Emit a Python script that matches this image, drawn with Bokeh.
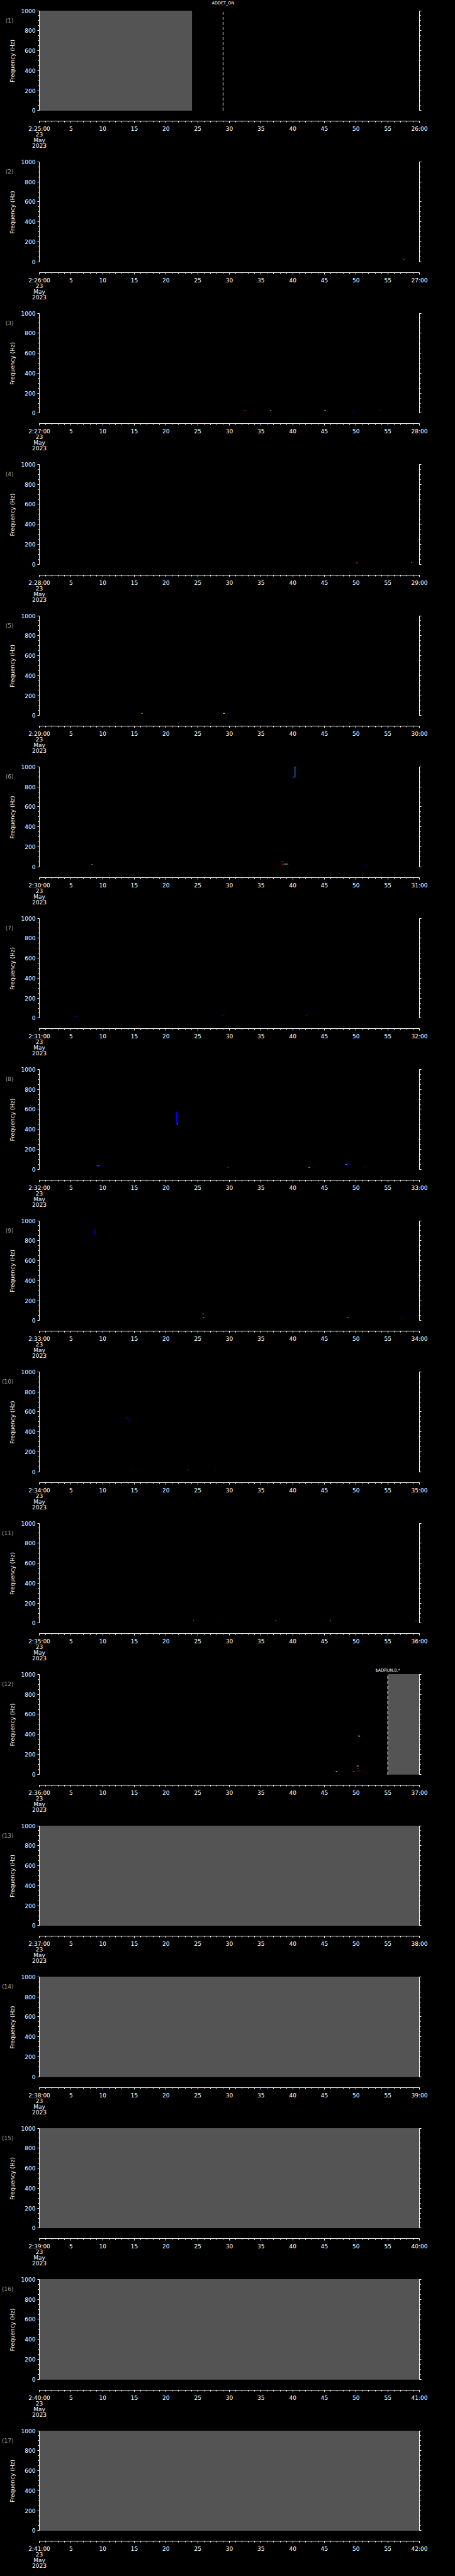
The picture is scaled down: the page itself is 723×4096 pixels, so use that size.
from bokeh.plotting import figure
from bokeh.layouts import column
from bokeh.models import (Range1d, FixedTicker, LinearAxis, Label, ColumnDataSource,
                          LinearColorMapper, GlobalInlineStyleSheet)
from bokeh.transform import transform
from bokeh.embed import file_html
from bokeh.resources import INLINE

# ---------------- data ----------------
HOUR = 2
panel_start_minute = list(range(25, 42))          # panels (1)..(17): 2:25 .. 2:41
DAY, MONTH, YEAR = "23", "May", "2023"
freq_ticks = [0, 200, 400, 600, 800, 1000]
freq_minor = list(range(0, 1001, 50))
sec_ticks = list(range(0, 61, 5))
sec_minor = list(range(0, 61, 1))

# grey (no data) blocks: panel, start s, end s  (full 0-1000 Hz)
gray_panel = [1, 12, 13, 14, 15, 16, 17]
gray_t0 = [0.0, 55.0, 0.0, 0.0, 0.0, 0.0, 0.0]
gray_t1 = [24.1, 60.0, 60.0, 60.0, 60.0, 60.0, 60.0]

# event markers
event_panel = [1, 12]
event_t = [29.0, 55.0]
event_text = ["ADDET_ON", "$ADRUN,0,*"]
event_gap_refpx = [17.7, 9.0]

# spectrogram specks: panel, t0, t1, f0, f1, level(0-1)
speck_panel = [2, 2, 2,
               3, 3, 3, 3, 3, 3, 3, 3,
               4, 4, 4, 4,
               5, 5, 5,
               6, 6, 6, 6, 6, 6, 6, 6, 6, 6, 6,
               7, 7, 7,
               8, 8, 8, 8, 8, 8, 8, 8, 8, 8, 8, 8,
               9, 9, 9, 9, 9, 9, 9,
               10, 10, 10, 10, 10, 10, 10,
               11, 11, 11, 11, 11, 11,
               12, 12, 12, 12, 12, 12, 12, 12, 12]
speck_t0 = [57.40, 57.50, 57.60,
            32.3, 36.4, 36.5, 45.0, 45.1, 49.3, 53.6, 53.7,
            50.0, 50.1, 50.2, 58.7,
            16.1, 16.2, 29.0,
            40.3, 39.9, 40.1, 40.3, 8.2, 38.2, 38.4, 38.2, 38.7, 38.9, 51.4,
            5.6, 28.9, 42.0,
            21.6, 21.7, 9.05, 9.5, 29.7, 29.85, 42.5, 42.65, 48.3, 48.6, 51.3, 59.7,
            8.65, 25.7, 25.8, 25.9, 26.0, 48.5, 57.1,
            13.75, 13.95, 14.1, 14.6, 23.4, 23.55, 27.7,
            24.3, 28.6, 37.2, 37.28, 45.9, 59.4,
            50.2, 50.35, 50.45, 50.1, 50.25, 49.5, 50.1, 46.8, 47.0]
speck_t1 = [57.50, 57.60, 57.75,
            32.5, 36.5, 36.7, 45.1, 45.25, 49.5, 53.7, 53.8,
            50.1, 50.2, 50.35, 58.85,
            16.2, 16.3, 29.3,
            40.42, 40.1, 40.3, 40.55, 8.4, 38.4, 38.6, 38.7, 38.9, 39.3, 51.8,
            5.9, 29.2, 42.25,
            21.72, 21.85, 9.5, 9.9, 29.85, 30.0, 42.65, 42.8, 48.6, 49.0, 51.5, 60.0,
            8.77, 26.0, 25.9, 26.0, 26.1, 48.8, 57.4,
            13.95, 14.1, 14.2, 14.7, 23.55, 23.7, 27.85,
            24.4, 28.75, 37.28, 37.35, 46.05, 59.5,
            50.35, 50.45, 50.6, 50.4, 50.35, 49.8, 50.7, 47.0, 47.2]
speck_f0 = [21, 21, 21,
            23, 23, 23, 23, 23, 11, 23, 23,
            15, 15, 15, 20,
            20, 20, 20,
            896, 892, 892, 994, 25, 55, 55, 27, 27, 27, 15,
            12, 22, 25,
            456, 452, 35, 33, 20, 20, 20, 20, 50, 50, 25, 25,
            863, 65, 30, 30, 30, 25, 20,
            533, 524, 514, 20, 20, 20, 20,
            22, 22, 22, 22, 22, 22,
            385, 380, 380, 83, 55, 30, 34, 30, 30]
speck_f1 = [27, 27, 27,
            29, 29, 29, 29, 29, 17, 29, 29,
            21, 21, 21, 26,
            26, 26, 26,
            1000, 899, 899, 1000, 31, 61, 61, 33, 33, 33, 21,
            18, 28, 31,
            575, 460, 41, 39, 26, 26, 26, 26, 56, 56, 31, 31,
            909, 71, 36, 36, 36, 31, 26,
            541, 533, 524, 26, 26, 26, 26,
            28, 28, 28, 28, 28, 28,
            395, 388, 388, 89, 61, 36, 40, 36, 36]
speck_level = [0.85, 0.6, 0.05,
               0.85, 0.6, 0.05, 0.6, 0.3, 0.05, 0.85, 0.05,
               0.85, 0.6, 0.05, 0.3,
               0.3, 0.6, 0.6,
               0.2, 0.05, 0.3, 0.2, 0.3, 0.85, 0.05, 0.85, 0.6, 0.3, 0.05,
               0.05, 0.05, 0.05,
               0.05, 0.3, 0.2, 0.05, 0.85, 0.05, 0.6, 0.85, 0.3, 0.05, 0.85, 0.05,
               0.05, 0.3, 0.85, 0.6, 0.05, 0.45, 0.05,
               0.05, 0.05, 0.05, 0.85, 0.3, 0.05, 0.05,
               0.7, 0.05, 0.85, 0.6, 0.3, 0.7,
               0.05, 0.3, 0.6, 0.6, 0.6, 0.85, 0.95, 0.6, 0.05]

# ---------------- styling / layout ----------------
S = 0.705
FONT = "DejaVu Sans"
GRAY = "#545454"
palette = ["#0000ff", "#1e80ff", "#00e0ff", "#00ff40", "#ffff00", "#ff9000", "#ff0000", "#a00000"]
mapper = LinearColorMapper(palette=palette, low=0, high=1)

N = len(panel_start_minute)
TOTAL_H = 4088
edges = [round(i * TOTAL_H / N) for i in range(N + 1)]
LEFT, FRAME_W, RIGHT = 57, 609, 30
TOP, FRAME_H = 1, 197            # frame bottom sits at 198 px (x-axis line)
HZ_PER_REFPX = 1000.0 / 233.0
Y_LOW = -24.3 * HZ_PER_REFPX     # x-axis sits 24 ref px below 0 Hz
PX_PER_HZ = 181.0 / (1000.0 - Y_LOW)
Y_HIGH = Y_LOW + FRAME_H / PX_PER_HZ
PANEL_TAG_Y = 900                # height of the "(n)" tag


def style_axis(ax, tick_out, minor_out):
    ax.axis_line_color = "white"
    ax.axis_line_width = 1
    ax.major_tick_line_color = "white"
    ax.minor_tick_line_color = "white"
    ax.major_tick_in = 0
    ax.minor_tick_in = 0
    ax.major_tick_out = tick_out
    ax.minor_tick_out = minor_out
    ax.major_label_text_color = "white"
    ax.major_label_text_font = FONT
    ax.major_label_text_font_size = "9px"
    ax.axis_label_text_color = "white"
    ax.axis_label_text_font = FONT
    ax.axis_label_text_font_size = "9px"
    ax.axis_label_text_font_style = "normal"


figs = []
for k in range(N):
    pnum = k + 1
    m = panel_start_minute[k]
    h = edges[k + 1] - edges[k]
    p = figure(width=LEFT + FRAME_W + RIGHT, height=h, output_backend="svg",
               toolbar_location=None, x_range=Range1d(0, 60), y_range=Range1d(Y_LOW, Y_HIGH),
               min_border_left=LEFT, min_border_right=RIGHT, min_border_top=TOP,
               min_border_bottom=h - TOP - FRAME_H,
               background_fill_color="black", border_fill_color="black",
               outline_line_color=None)
    p.xgrid.visible = False
    p.ygrid.visible = False

    xa = p.xaxis[0]
    xa.ticker = FixedTicker(ticks=sec_ticks, minor_ticks=sec_minor)
    xa.major_label_overrides = {0: f"{HOUR}:{m:02d}:00\n{DAY}\n{MONTH}\n{YEAR}",
                                60: f"{m + 1:02d}:00"}
    style_axis(xa, 3, 2)
    xa.major_label_standoff = 4
    xa.major_label_text_line_height = 0.92

    ya = p.yaxis[0]
    ya.ticker = FixedTicker(ticks=freq_ticks, minor_ticks=freq_minor)
    ya.bounds = (0, 1000)
    ya.axis_label = "Frequency (Hz)"
    style_axis(ya, 3, 2)
    ya.major_label_standoff = 3
    ya.axis_label_standoff = 6

    # panel tag "(n)" as a tick-less outer axis label
    tag = LinearAxis(ticker=FixedTicker(ticks=[PANEL_TAG_Y], minor_ticks=[]),
                     bounds=(PANEL_TAG_Y - 5, PANEL_TAG_Y + 5),
                     major_label_overrides={PANEL_TAG_Y: f"({pnum})"})
    style_axis(tag, 0, 0)
    tag.axis_line_color = None
    tag.major_tick_line_color = None
    tag.minor_tick_line_color = None
    tag.major_label_text_color = "#a0a0a0"
    tag.major_label_standoff = -10
    p.add_layout(tag, "left")

    ra = LinearAxis(ticker=FixedTicker(ticks=freq_ticks, minor_ticks=freq_minor),
                    bounds=(0, 1000))
    style_axis(ra, 3, 2)
    ra.major_label_text_font_size = "0px"
    ra.major_label_text_color = None
    p.add_layout(ra, "right")

    # grey no-data blocks
    gi = [i for i, pn in enumerate(gray_panel) if pn == pnum]
    if gi:
        p.quad(left=[gray_t0[i] for i in gi], right=[gray_t1[i] for i in gi],
               bottom=0, top=1000, fill_color=GRAY, line_color=None)

    # specks
    si = [i for i, pn in enumerate(speck_panel) if pn == pnum]
    if si:
        src = ColumnDataSource(dict(
            l=[speck_t0[i] for i in si], r=[speck_t1[i] for i in si],
            b=[speck_f0[i] for i in si], t=[speck_f1[i] for i in si],
            level=[speck_level[i] for i in si]))
        p.quad(left="l", right="r", bottom="b", top="t", source=src,
               fill_color=transform("level", mapper), line_color=None)

    # events
    for i, pn in enumerate(event_panel):
        if pn != pnum:
            continue
        p.segment(x0=[event_t[i]], y0=[0], x1=[event_t[i]], y1=[1000],
                  line_color="white", line_width=1, line_dash="5 3")
        p.add_layout(Label(x=event_t[i], y=1000 + event_gap_refpx[i] * HZ_PER_REFPX,
                           text=event_text[i], text_align="center", text_baseline="middle",
                           text_color="white", text_font=FONT, text_font_size="6.5px"))
    figs.append(p)

layout = column(*figs, spacing=0,
                stylesheets=[GlobalInlineStyleSheet(css="html, body { background: #000000; }")])

open("out.html", "w").write(file_html(layout, INLINE))
